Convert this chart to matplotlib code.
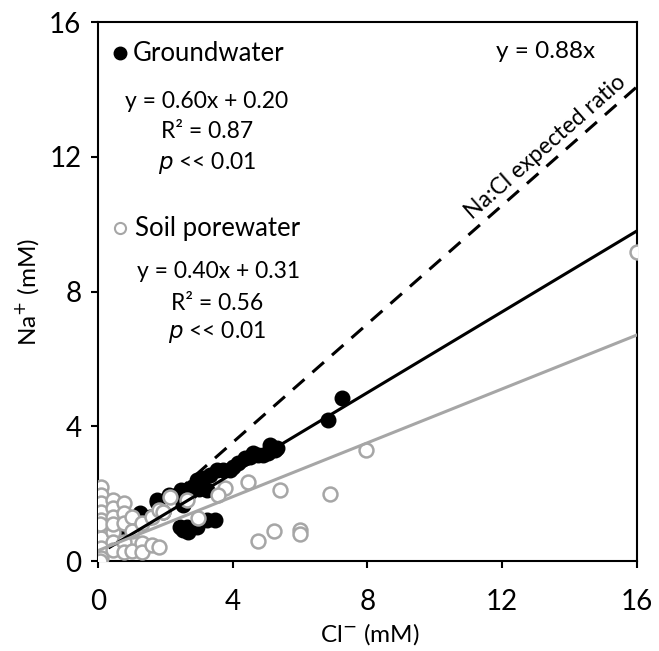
import matplotlib
matplotlib.use("Agg")
import matplotlib.pyplot as plt
import numpy as np

plt.rcParams['font.family'] = ['Lato', 'DejaVu Sans']

# groundwater (black filled)
gw_cl = [0.35, 0.9, 1.25, 1.54, 1.75, 1.75, 1.93, 2.1, 2.34, 2.52, 2.73, 2.94, 3.03, 3.23,
         3.32, 3.53, 3.71, 3.92, 4.0, 4.15, 4.36, 4.5, 4.6, 4.75, 4.9, 5.05, 5.1, 5.25,
         5.3, 6.82, 7.24, 2.43, 2.52, 2.64, 2.67, 2.94, 3.23, 3.47, 2.8, 3.1, 2.45, 3.0]
gw_na = [0.45, 0.9, 1.42, 1.3, 1.81, 1.75, 1.45, 1.96, 1.96, 1.66, 2.05, 2.4, 2.3, 2.1,
         2.55, 2.7, 2.7, 2.7, 2.8, 2.9, 3.05, 3.1, 3.2, 3.15, 3.15, 3.2, 3.44, 3.3,
         3.35, 4.2, 4.84, 1.0, 0.92, 1.0, 0.86, 1.0, 1.22, 1.22, 2.2, 2.45, 2.1, 2.15]

# soil porewater (grey open)
sp_cl = [0.1, 0.1, 0.1, 0.1, 0.1, 0.1, 0.1, 0.1, 0.1, 0.05, 0.05,
         0.45, 0.45, 0.45, 0.45, 0.45, 0.45, 0.45,
         0.77, 0.77, 0.77, 0.77, 0.77,
         1.0, 1.0, 1.0, 1.3, 1.3, 1.3, 1.6, 1.6, 1.8, 1.8,
         2.14, 1.93, 2.64, 2.97, 3.77, 3.56, 4.45, 5.4, 6.9, 7.97,
         4.75, 5.22, 6.0, 6.0, 16.0]
sp_na = [2.2, 1.96, 1.72, 1.45, 1.22, 0.92, 0.68, 0.39, 0.09, 0.0, 1.1,
         1.81, 1.57, 1.3, 0.86, 0.56, 0.33, 1.1,
         1.72, 1.42, 0.56, 0.27, 1.13,
         1.3, 0.3, 0.9, 1.13, 0.53, 0.27, 1.3, 0.47, 1.51, 0.42,
         1.9, 1.45, 1.81, 1.28, 2.17, 1.96, 2.35, 2.1, 2.0, 3.3,
         0.6, 0.88, 0.92, 0.8, 9.18]

gw_fit = (0.60, 0.20)
sp_fit = (0.40, 0.31)
nacl_ratio = 0.88

grey = '#a6a6a6'

fig = plt.figure(figsize=(6.59, 6.51), dpi=100)
ax = fig.add_axes([0.1487, 0.1382, 0.8179, 0.828])

xx = np.array([0, 16])
ax.plot(xx, nacl_ratio * xx, color='black', lw=2.2, ls=(0, (5, 3.5)), zorder=1)

ax.scatter(gw_cl, gw_na, s=110, color='black', zorder=2)
ax.scatter(sp_cl, sp_na, s=100, facecolor='white', edgecolor=grey, linewidth=1.8, zorder=3)

xg = np.array([min(gw_cl), 16])
ax.plot(xg, gw_fit[0] * xg + gw_fit[1], color='black', lw=2.2, zorder=4)
ax.plot(xx, sp_fit[0] * xx + sp_fit[1], color=grey, lw=2.2, zorder=4)

ax.set_xlim(0, 16)
ax.set_ylim(0, 16)
ax.set_xticks([0, 4, 8, 12, 16])
ax.set_yticks([0, 4, 8, 12, 16])
ax.tick_params(direction='out', length=5, width=1.5, labelsize=20)
ax.tick_params(axis='x', pad=15)
ax.tick_params(axis='y', pad=7)
for s in ax.spines.values():
    s.set_linewidth(1.5)

ax.set_xlabel('Cl$^{-}$ (mM)', fontsize=17.5)
ax.set_ylabel('Na$^{+}$ (mM)', fontsize=17.5)
ax.xaxis.set_label_coords(0.505, -0.111)
ax.yaxis.set_label_coords(-0.106, 0.5)

ax.plot(0.65, 15.07, 'o', color='black', ms=9)
ax.text(1.04, 15.07, 'Groundwater', fontsize=18.5, va='center')
ax.text(3.22, 13.63, 'y = 0.60x + 0.20', fontsize=16.5, ha='center', va='center')
ax.text(3.25, 12.74, 'R² = 0.87', fontsize=16.5, ha='center', va='center')
ax.text(3.25, 11.81, '$\\it{p}$ << 0.01', fontsize=16.5, ha='center', va='center')

ax.plot(0.65, 9.88, 'o', mfc='white', mec=grey, mew=1.5, ms=8)
ax.text(1.1, 9.88, 'Soil porewater', fontsize=18.5, va='center')
ax.text(3.58, 8.58, 'y = 0.40x + 0.31', fontsize=16.5, ha='center', va='center')
ax.text(3.55, 7.65, 'R² = 0.56', fontsize=16.5, ha='center', va='center')
ax.text(3.55, 6.80, '$\\it{p}$ << 0.01', fontsize=16.5, ha='center', va='center')

ax.text(13.3, 15.11, 'y = 0.88x', fontsize=17.5, ha='center', va='center')
ax.text(13.27, 12.28, 'Na:Cl expected ratio', fontsize=16.5, ha='center', va='center',
        rotation=41.3)

fig.savefig('out.png', dpi=100)
